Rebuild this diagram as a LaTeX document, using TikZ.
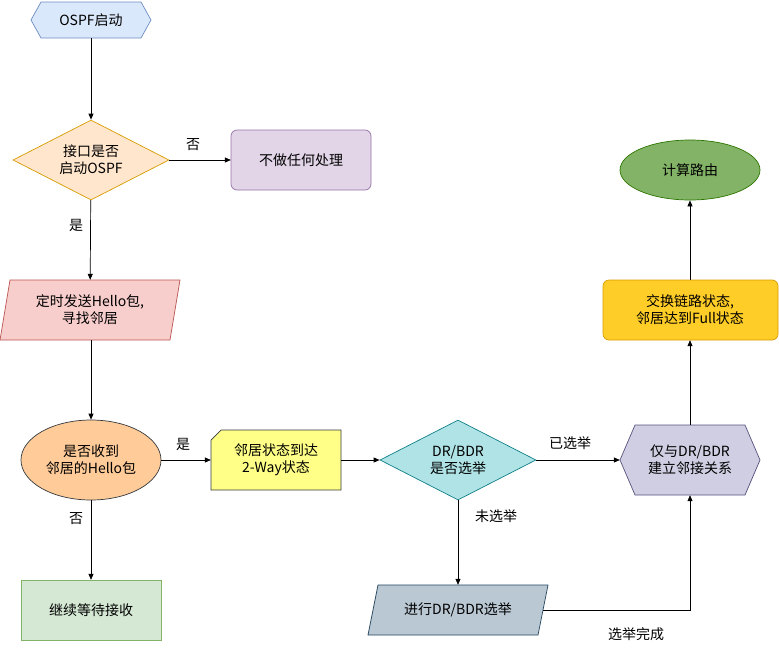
\documentclass[tikz,border=0pt]{standalone}
\usepackage{fontspec}
\setmainfont{Noto Sans CJK SC}
\usetikzlibrary{shapes.geometric,arrows.meta}
\definecolor{c1f}{HTML}{DAE8FC}\definecolor{c1s}{HTML}{6C8EBF}
\definecolor{c2f}{HTML}{FFE6CC}\definecolor{c2s}{HTML}{D79B00}
\definecolor{c3f}{HTML}{E1D5E7}\definecolor{c3s}{HTML}{9673A6}
\definecolor{c4f}{HTML}{F8CECC}\definecolor{c4s}{HTML}{B85450}
\definecolor{c5f}{HTML}{FFCC99}\definecolor{c5s}{HTML}{36393D}
\definecolor{c6f}{HTML}{D5E8D4}\definecolor{c6s}{HTML}{82B366}
\definecolor{c7f}{HTML}{FFFF88}
\definecolor{c8f}{HTML}{B0E3E6}\definecolor{c8s}{HTML}{0E8088}
\definecolor{c9f}{HTML}{D0CEE2}\definecolor{c9s}{HTML}{56517E}
\definecolor{c10f}{HTML}{BAC8D3}\definecolor{c10s}{HTML}{23445D}
\definecolor{c11f}{HTML}{FFCD28}
\definecolor{c12f}{HTML}{82B366}\definecolor{c12s}{HTML}{2D7600}
\begin{document}
\begin{tikzpicture}[x=1pt,y=-1pt,
  every node/.style={font=\fontsize{14}{17}\selectfont, align=center, inner sep=0pt},
  box/.style={rectangle, minimum width=#1},
  arr/.style={draw, -{Triangle[length=6pt,width=5pt]}, line width=0.7pt},
  lbl/.style={font=\fontsize{14}{17}\selectfont},
  sh/.style={line width=0.7pt}]
\useasboundingbox (0,0) rectangle (779,651);
% shapes drawn directly
\filldraw[sh,fill=c1f,draw=c1s] (31,20)--(41,2)--(141,2)--(151,20)--(141,38)--(41,38)--cycle;
\filldraw[sh,fill=c3f,draw=c3s,rounded corners=6pt] (231,130) rectangle (371,190);
\filldraw[sh,fill=c4f,draw=c4s] (0,340)--(10,280)--(180,280)--(170,340)--cycle;
\filldraw[sh,fill=c6f,draw=c6s] (21,580) rectangle (161,640);
\filldraw[sh,fill=c7f,draw=c5s] (211,440)--(221,430)--(341,430)--(341,490)--(211,490)--cycle;
\filldraw[sh,fill=c9f,draw=c9s] (620,460)--(635,425)--(745,425)--(760,460)--(745,495)--(635,495)--cycle;
\filldraw[sh,fill=c10f,draw=c10s] (368,635)--(378,585)--(548,585)--(538,635)--cycle;
\filldraw[sh,fill=c11f,draw=c2s,rounded corners=6pt] (603,280) rectangle (778,340);
% nodes
\node[box=120,minimum height=36] (start) at (91,20) {OSPF启动};
\node[diamond,draw=c2s,fill=c2f,sh,minimum width=156,minimum height=80] (d1) at (91,160) {};
\node at (91,160) {接口是否\\启动OSPF};
\node[box=140,minimum height=60] (none) at (301,160) {不做任何处理};
\node[box=170,minimum height=60] (hello) at (90,310) {定时发送Hello包,\\寻找邻居};
\node[ellipse,draw=c5s,fill=c5f,sh,minimum width=140,minimum height=80] (recv) at (91,460) {是否收到\\邻居的Hello包};
\node[box=140,minimum height=60] (wait) at (91,610) {继续等待接收};
\node[box=130,minimum height=60] (way) at (276,460) {邻居状态到达\\2-Way状态};
\node[diamond,draw=c8s,fill=c8f,sh,minimum width=156,minimum height=80] (d2) at (458,460) {};
\node at (458,460) {DR/BDR\\是否选举};
\node[box=140,minimum height=70] (adj) at (690,460) {仅与DR/BDR\\建立邻接关系};
\node[box=170,minimum height=50] (elect) at (458,610) {进行DR/BDR选举};
\node[box=175,minimum height=60] (ex) at (690,310) {交换链路状态,\\邻居达到Full状态};
\node[ellipse,draw=c12s,fill=c12f,sh,minimum width=140,minimum height=60] (calc) at (690,170) {计算路由};
% connectors
\draw[arr] (start) -- (d1);
\draw[arr] (d1) -- (none);
\draw[arr] (d1) -- (hello);
\draw[arr] (hello.south -| recv.north) -- (recv);
\draw[arr] (recv) -- (way);
\draw[arr] (recv) -- (wait);
\draw[arr] (way) -- (d2);
\draw[arr] (d2) -- (adj);
\draw[arr] (d2) -- (elect);
\draw[arr] (elect.east) -| (adj.south);
\draw[arr] (adj) -- (ex);
\draw[arr] (ex) -- (calc);
% labels
\node[lbl] (l1) at (193,145) {否};
\node[lbl] (l2) at (76,225) {是};
\node[lbl] (l3) at (183,444) {是};
\node[lbl] (l4) at (76,519) {否};
\node[lbl] (l5) at (570,443) {已选举};
\node[lbl] (l6) at (496,516) {未选举};
\node[lbl] (l7) at (636,634) {选举完成};
\end{tikzpicture}
\end{document}
